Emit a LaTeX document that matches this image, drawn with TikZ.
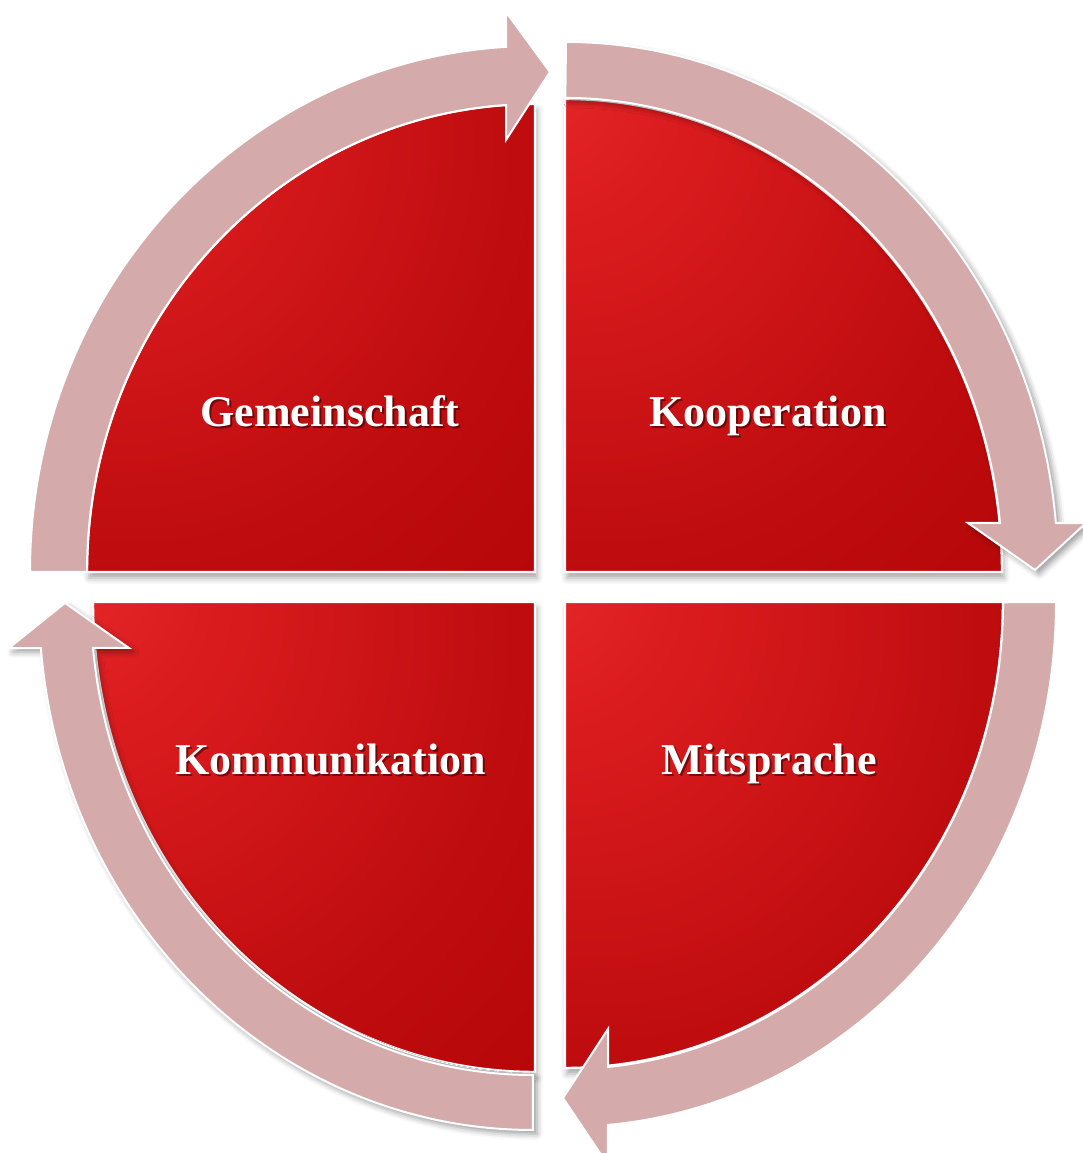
\documentclass[tikz,border=0pt]{standalone}
\usepackage{fontspec}
\setmainfont{Liberation Serif}
\usetikzlibrary{shadows.blur}
\definecolor{arrowpink}{RGB}{212,170,170}
\pgfdeclareradialshading{sectorshade}{\pgfpoint{-30bp}{30bp}}{rgb(0bp)=(0.91,0.16,0.17);rgb(14bp)=(0.86,0.11,0.12);rgb(42bp)=(0.75,0.05,0.06);rgb(78bp)=(0.68,0.0,0.0);rgb(125bp)=(0.64,0.0,0.0)}
\begin{document}
\begin{tikzpicture}[x=0.5pt,y=0.5pt,
  sector/.style={shade, shading=sectorshade, draw=white, line width=1.2pt,
    blur shadow={shadow xshift=1pt, shadow yshift=-3pt, shadow opacity=35, shadow blur radius=3pt}},
  cyclearrow/.style={fill=arrowpink, draw=white, line width=1pt},
  shadowarrow/.style={cyclearrow, blur shadow={shadow xshift=2pt, shadow yshift=-2pt, shadow opacity=40, shadow blur radius=3pt}},
  lbl/.style={text=white, font=\fontsize{22}{26}\selectfont\bfseries, anchor=base, inner sep=0pt},
  lblshadow/.style={lbl, text=black, opacity=0.45}]
\useasboundingbox (0,0) rectangle (1083,1153);
\coordinate (cTL) at (535,581);
\coordinate (cTR) at (565,581);
\coordinate (cBR) at (565,551);
\coordinate (cBL) at (535,551);
% sectors
\path[sector] (cTL) -- ++(-448,0) arc[start angle=180,end angle=90,x radius=448,y radius=468] -- cycle;
\path[sector] (cTR) -- ++(0,473) arc[start angle=90,end angle=0,x radius=437,y radius=473] -- cycle;
\path[sector] (cBR) -- ++(438,0) arc[start angle=0,end angle=-90,x radius=438,y radius=466] -- cycle;
\path[sector] (cBL) -- ++(0,-470) arc[start angle=270,end angle=180,x radius=442,y radius=470] -- cycle;
% arrows
\path[cyclearrow] (30,581) arc[start angle=180,end angle=93.29,x radius=505,y radius=526]
  -- (506,1141) -- (550,1081) -- (506,1013) -- (506,1048)
  arc[start angle=93.71,end angle=180,x radius=448,y radius=468] -- cycle;
\path[shadowarrow] (566,1111) arc[start angle=90,end angle=5.3,x radius=492,y radius=530]
  -- (1086,630) -- (1035,583) -- (968,630) -- (1000,630)
  arc[start angle=5.93,end angle=90,x radius=437,y radius=474] -- cycle;
\path[cyclearrow] (1056,551) arc[start angle=0,end angle=-84.98,x radius=491,y radius=525]
  -- (608,-12) -- (563,55) -- (608,124) -- (608,86)
  arc[start angle=-84.37,end angle=0,x radius=438,y radius=467] -- cycle;
\path[shadowarrow] (533,23) arc[start angle=270,end angle=185,x radius=494,y radius=528]
  -- (9,505) -- (65,550) -- (129,505) -- (93,505)
  arc[start angle=185.58,end angle=270,x radius=442,y radius=473] -- cycle;
% labels
\node[lblshadow] (gemS) at (332,724) {Gemeinschaft};
\node[lbl] (gem) at (330,726) {Gemeinschaft};
\node[lblshadow] (koopS) at (770,724) {Kooperation};
\node[lbl] (koop) at (768,726) {Kooperation};
\node[lblshadow] (kommS) at (333,376) {Kommunikation};
\node[lbl] (komm) at (331,378) {Kommunikation};
\node[lblshadow] (mitS) at (771,376) {Mitsprache};
\node[lbl] (mit) at (769,378) {Mitsprache};
\end{tikzpicture}
\end{document}
